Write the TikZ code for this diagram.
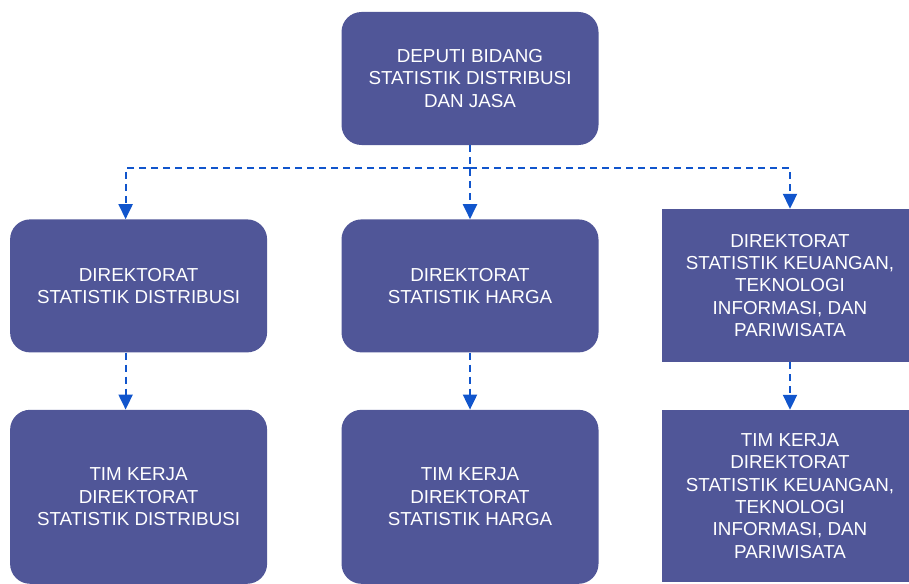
\documentclass[tikz,border=0pt]{standalone}
\usepackage{fontspec}
\setmainfont{Liberation Sans}
\usetikzlibrary{positioning,arrows.meta}
\definecolor{boxblue}{RGB}{80,86,152}
\definecolor{linkblue}{RGB}{17,85,204}

\begin{document}
\begin{tikzpicture}[x=1pt,y=-1pt,
  unit/.style={rectangle, rounded corners=20pt, fill=boxblue, text=white, align=center, minimum width=257pt, minimum height=133pt, inner sep=0pt, font=\fontsize{18.8}{22.3}\selectfont},
  squnit/.style={unit, rounded corners=0pt, minimum width=256pt},
  link/.style={draw=linkblue, line width=2pt, dash pattern=on 7pt off 5pt, -{Triangle[width=14pt,length=15pt]}}]

\clip (0,0) rectangle (909,583);

\node[unit] (deputi) at (470,78.5) {DEPUTI BIDANG\\STATISTIK DISTRIBUSI\\DAN JASA};
\node[unit, below=74pt of deputi] (dirharga) {DIREKTORAT\\STATISTIK HARGA};
\node[unit, left=74pt of dirharga] (dirdist) {DIREKTORAT\\STATISTIK DISTRIBUSI};
\node[squnit, minimum height=153pt] (dirkeu) at (790,285.5) {DIREKTORAT\\STATISTIK KEUANGAN,\\TEKNOLOGI\\INFORMASI, DAN\\PARIWISATA};

\node[unit, minimum height=174pt, below=57pt of dirdist] (timdist) {TIM KERJA\\DIREKTORAT\\STATISTIK DISTRIBUSI};
\node[unit, minimum height=174pt, below=57pt of dirharga] (timharga) {TIM KERJA\\DIREKTORAT\\STATISTIK HARGA};
\node[squnit, minimum height=172pt] (timkeu) at (790,496) {TIM KERJA\\DIREKTORAT\\STATISTIK KEUANGAN,\\TEKNOLOGI\\INFORMASI, DAN\\PARIWISATA};

\draw[link] (deputi.south) -- (dirharga.north);
\draw[link] (deputi.south) ++(0,23) coordinate (branch) -| ([xshift=-13pt]dirdist.north);
\draw[link] (branch) -| (dirkeu.north);

\draw[link] ([xshift=-13pt]dirdist.south) -- ([xshift=-13pt]timdist.north);
\draw[link] (dirharga.south) -- (timharga.north);
\draw[link] (dirkeu.south) -- (timkeu.north);

\end{tikzpicture}
\end{document}
